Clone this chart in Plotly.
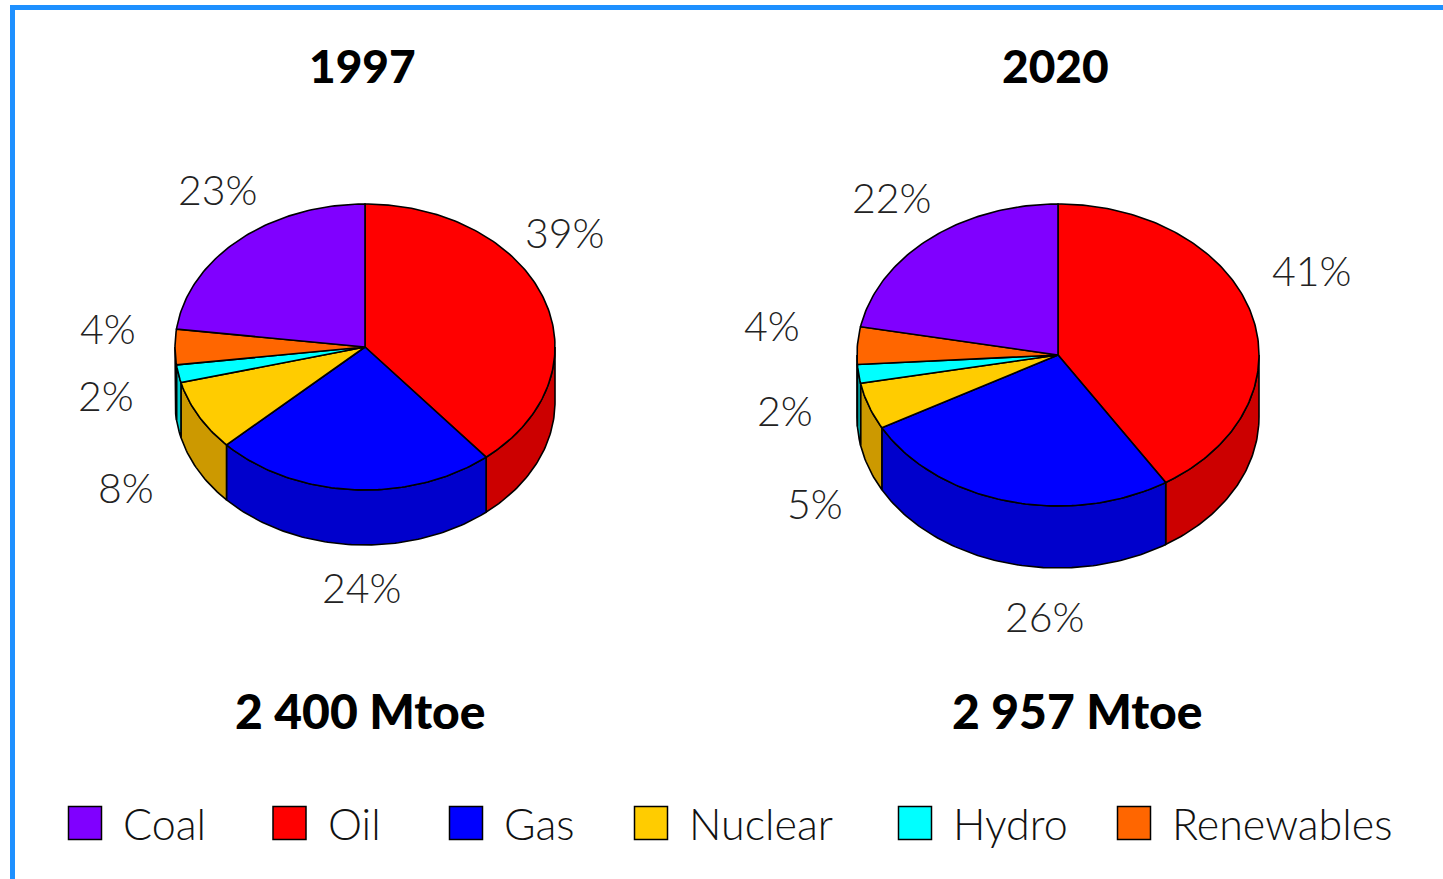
import numpy as np
import plotly.graph_objects as go

# ---------------- data ----------------
categories = ["Coal", "Oil", "Gas", "Nuclear", "Hydro", "Renewables"]
years = ["1997", "2020"]
totals = ["2 400 Mtoe", "2 957 Mtoe"]
# shares in %, listed in the clockwise drawing order starting at 12 o'clock
slice_order = ["Oil", "Gas", "Nuclear", "Hydro", "Renewables", "Coal"]
share_1997 = {"Oil": 39, "Gas": 24, "Nuclear": 8, "Hydro": 2, "Renewables": 4, "Coal": 23}
share_2020 = {"Oil": 41, "Gas": 26, "Nuclear": 5, "Hydro": 2, "Renewables": 4, "Coal": 22}

# ---------------- style / layout ----------------
W, H = 1443, 879
top_colors = {"Coal": "#8000FF", "Oil": "#FF0000", "Gas": "#0000FF",
              "Nuclear": "#FFCC00", "Hydro": "#00FFFF", "Renewables": "#FF6600"}
side_colors = {"Coal": "#6600CC", "Oil": "#CC0000", "Gas": "#0000CC",
               "Nuclear": "#CC9900", "Hydro": "#00CCCC", "Renewables": "#CC5200"}
# pie geometry (pixels): centre x, centre y, radius x, radius y, depth
pies = [dict(cx=365, cy=347, rx=190, ry=143, depth=55),
        dict(cx=1058, cy=355, rx=201, ry=151, depth=62)]
title_y = 65
total_y = 710
total_x = [360, 1077]
label_pad_x, label_pad_y = 70, 45
# per-label nudges (dx, dy) in pixels, keyed by category
label_nudge = [
    {"Coal": (25, -16), "Oil": (-45, -51), "Gas": (13, -2), "Nuclear": (-11, 23),
     "Hydro": (-4, 3), "Renewables": (3, -19)},
    {"Coal": (7, -6), "Oil": (-6, -30), "Gas": (54, 12), "Nuclear": (12, 61),
     "Hydro": (-4, 23), "Renewables": (-16, -17)},
]
legend_x = [85, 289.5, 466, 651, 915, 1134]
legend_y = 823
FONT = "Lato, 'Open Sans', sans-serif"

fig = go.Figure()


def arc(p, a0, a1, n=None, dy=0.0):
    if n is None:
        n = max(4, int(abs(a1 - a0) / np.pi * 180))
    t = np.linspace(a0, a1, n)
    return p["cx"] + p["rx"] * np.sin(t), p["cy"] - p["ry"] * np.cos(t) + dy


shares_all = [share_1997, share_2020]
annotations = []
for k, (p, shares) in enumerate(zip(pies, shares_all)):
    vals = np.array([shares[c] for c in slice_order], dtype=float)
    cum = np.concatenate([[0], np.cumsum(vals)]) / vals.sum() * 2 * np.pi
    # side walls (front half only: angles between pi/2 and 3pi/2)
    for i, c in enumerate(slice_order):
        a0, a1 = max(cum[i], np.pi / 2), min(cum[i + 1], 3 * np.pi / 2)
        if a1 <= a0:
            continue
        xt, yt = arc(p, a0, a1)
        xb, yb = arc(p, a1, a0, dy=p["depth"])
        fig.add_trace(go.Scatter(
            x=np.concatenate([xt, xb, xt[:1]]), y=np.concatenate([yt, yb, yt[:1]]),
            mode="lines", fill="toself", fillcolor=side_colors[c],
            line=dict(color="black", width=1.6), hoverinfo="skip", showlegend=False))
    # top wedges
    for i, c in enumerate(slice_order):
        xt, yt = arc(p, cum[i], cum[i + 1])
        fig.add_trace(go.Scatter(
            x=np.concatenate([[p["cx"]], xt, [p["cx"]]]),
            y=np.concatenate([[p["cy"]], yt, [p["cy"]]]),
            mode="lines", fill="toself", fillcolor=top_colors[c],
            line=dict(color="black", width=1.6), hoverinfo="skip", showlegend=False,
            name=c))
    # percentage labels
    for i, c in enumerate(slice_order):
        m = (cum[i] + cum[i + 1]) / 2
        lx = p["cx"] + (p["rx"] + label_pad_x) * np.sin(m)
        ly = p["cy"] - (p["ry"] + label_pad_y) * np.cos(m) + p["depth"] * max(0.0, -np.cos(m))
        dx, dy = label_nudge[k][c]
        annotations.append(dict(x=lx + dx, y=ly + dy, text=f"{shares[c]}%", showarrow=False,
                                xref="x", yref="y", xanchor="center", yanchor="middle",
                                font=dict(family=FONT, size=41, color="#222222", weight=300)))
    # titles
    annotations.append(dict(x=p["cx"] - 3, y=title_y, text=years[k], showarrow=False,
                            xref="x", yref="y", xanchor="center", yanchor="middle",
                            font=dict(family=FONT, size=46, color="black", weight=900)))
    annotations.append(dict(x=total_x[k], y=total_y, text=totals[k], showarrow=False,
                            xref="x", yref="y", xanchor="center", yanchor="middle",
                            font=dict(family=FONT, size=48, color="black", weight=900)))

# legend (manual, large square swatches)
fig.add_trace(go.Scatter(
    x=legend_x, y=[legend_y] * len(categories), mode="markers",
    marker=dict(symbol="square", size=33, color=[top_colors[c] for c in categories],
                line=dict(color="black", width=1.5)),
    hoverinfo="skip", showlegend=False))
for lx, c in zip(legend_x, categories):
    annotations.append(dict(x=lx + 36, y=legend_y, text=c, showarrow=False,
                            xref="x", yref="y", xanchor="left", yanchor="middle",
                            font=dict(family=FONT, size=43, color="#111111", weight=300)))

fig.update_layout(
    width=W, height=H, autosize=False,
    margin=dict(l=0, r=0, t=0, b=0),
    paper_bgcolor="white", plot_bgcolor="white",
    xaxis=dict(range=[0, W], visible=False, fixedrange=True),
    yaxis=dict(range=[H, 0], visible=False, fixedrange=True),
    annotations=annotations,
    shapes=[dict(type="rect", xref="x", yref="y", x0=12.5, y0=7.5, x1=W + 20, y1=H + 20,
                 line=dict(color="#1E90FF", width=5), fillcolor="rgba(0,0,0,0)", layer="above")],
    showlegend=False,
)
fig.write_html("out.html")
